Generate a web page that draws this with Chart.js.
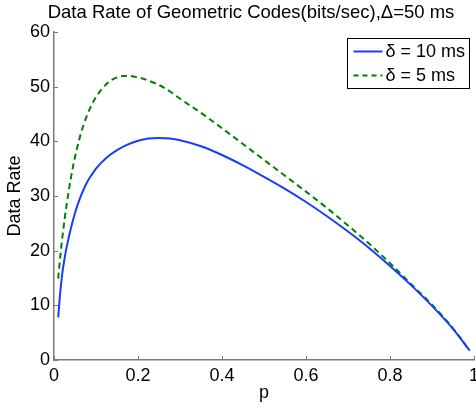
<!DOCTYPE html>
<html>
<head>
<meta charset="utf-8">
<script src="https://cdn.jsdelivr.net/npm/chart.js@4/dist/chart.umd.min.js"></script>
<style>
  html, body { margin: 0; padding: 0; background: #fff; }
  #wrap { width: 476px; height: 409px; position: relative; }
</style>
</head>
<body>
<div id="wrap"><canvas id="c" width="476" height="409"></canvas></div>
<script>
const titleText = "Data Rate of Geometric Codes(bits/sec),\u0394=50 ms";
const xLabel = "p";
const yLabel = "Data Rate";
const seriesNames = ["\u03b4 = 10 ms", "\u03b4 = 5 ms"];
const pValues = [0.01,0.015,0.02,0.025,0.03,0.04,0.05,0.06,0.07,0.08,0.09,0.1,0.125,0.15,0.175,0.2,0.225,0.25,0.275,0.3,0.35,0.4,0.45,0.5,0.55,0.6,0.65,0.7,0.75,0.8,0.85,0.9,0.95,0.99];
const rate10ms = [7.8,12.5,16.0,18.5,20.6,24.0,26.9,29.2,31.1,32.7,33.9,35.0,37.0,38.4,39.4,40.1,40.5,40.6,40.5,40.2,39.1,37.5,35.6,33.5,31.3,28.9,26.3,23.5,20.5,17.2,13.7,9.9,5.7,1.7];
const rate5ms = [14.9,19.0,22.5,25.6,28.4,33.2,37.1,40.3,42.9,45.0,46.7,48.1,50.5,51.7,52.0,51.7,51.1,50.3,49.2,47.8,45.2,42.4,39.5,36.6,33.7,30.8,27.8,24.6,21.3,17.7,13.9,10.1,5.8,1.7];
const xTicks = [0, 0.2, 0.4, 0.6, 0.8, 1];
const yTicks = [0, 10, 20, 30, 40, 50, 60];

const FONT = "'Liberation Sans', Arial, Helvetica, sans-serif";
const BLUE = '#1a3cff';
const GREEN = '#008000';
const AXIS = '#7a7a7a';

const toPts = (ys) => pValues.map((p, i) => ({ x: p, y: ys[i] }));

const decorPlugin = {
  id: 'decor',
  afterDraw(chart) {
    const ctx = chart.ctx;
    const xs = chart.scales.x, ys = chart.scales.y;
    const area = chart.chartArea;
    ctx.save();
    // inward ticks
    ctx.strokeStyle = AXIS;
    ctx.lineWidth = 1;
    xTicks.forEach(v => {
      const px = Math.round(xs.getPixelForValue(v)) + 0.5;
      ctx.beginPath(); ctx.moveTo(px, area.bottom); ctx.lineTo(px, area.bottom - 4); ctx.stroke();
    });
    yTicks.forEach(v => {
      const py = Math.round(ys.getPixelForValue(v)) + 0.5;
      ctx.beginPath(); ctx.moveTo(area.left, py); ctx.lineTo(area.left + 4, py); ctx.stroke();
    });
    // title
    ctx.fillStyle = '#000';
    ctx.font = '18.5px ' + FONT;
    ctx.textAlign = 'center';
    ctx.textBaseline = 'alphabetic';
    ctx.fillText(titleText, 251, 18);
    // legend
    const lx = 347.5, ly = 38.5, lw = 122, lh = 50;
    ctx.fillStyle = '#fff';
    ctx.fillRect(lx, ly, lw, lh);
    ctx.strokeStyle = '#000';
    ctx.lineWidth = 1;
    ctx.strokeRect(lx, ly, lw, lh);
    const rows = [
      { name: seriesNames[0], color: BLUE, dash: [] , y: ly + 13 },
      { name: seriesNames[1], color: GREEN, dash: [5, 4], y: ly + 37 }
    ];
    rows.forEach(r => {
      ctx.strokeStyle = r.color;
      ctx.lineWidth = 2;
      ctx.setLineDash(r.dash);
      ctx.beginPath(); ctx.moveTo(lx + 6, r.y); ctx.lineTo(lx + 35, r.y); ctx.stroke();
      ctx.setLineDash([]);
      ctx.fillStyle = '#000';
      ctx.font = '18px ' + FONT;
      ctx.textAlign = 'left';
      ctx.textBaseline = 'middle';
      ctx.fillText(r.name, lx + 38, r.y + 1);
    });
    ctx.restore();
  }
};

new Chart(document.getElementById('c'), {
  type: 'line',
  data: {
    datasets: [
      { label: seriesNames[0], data: toPts(rate10ms), borderColor: BLUE, borderWidth: 2, pointRadius: 0, fill: false, cubicInterpolationMode: 'monotone' },
      { label: seriesNames[1], data: toPts(rate5ms), borderColor: GREEN, borderWidth: 2, borderDash: [6, 4], pointRadius: 0, fill: false, cubicInterpolationMode: 'monotone' }
    ]
  },
  options: {
    responsive: false,
    animation: false,
    devicePixelRatio: 1,
    layout: { padding: { top: 32, right: 2, left: 0, bottom: 0 } },
    plugins: { legend: { display: false }, title: { display: false }, tooltip: { enabled: false } },
    scales: {
      x: {
        type: 'linear', min: 0, max: 1,
        afterBuildTicks: (s) => { s.ticks = xTicks.map(v => ({ value: v })); },
        afterFit: (s) => { s.height = 49; s.paddingRight = 0; s.paddingLeft = 0; },
        grid: { display: false, drawTicks: false },
        border: { display: true, color: AXIS, width: 1.5 },
        ticks: { color: '#000', font: { family: FONT, size: 18 }, padding: 5, maxRotation: 0,
                 callback: (v) => String(Math.round(v * 10) / 10) },
        title: { display: true, text: xLabel, color: '#000', font: { family: FONT, size: 18 }, padding: { top: 0, bottom: 5 } }
      },
      y: {
        type: 'linear', min: 0, max: 60,
        afterBuildTicks: (s) => { s.ticks = yTicks.map(v => ({ value: v })); },
        afterFit: (s) => { s.width = 54; s.paddingTop = 0; s.paddingBottom = 0; },
        grid: { display: false, drawTicks: false },
        border: { display: true, color: AXIS, width: 1.5 },
        ticks: { color: '#000', font: { family: FONT, size: 18 }, padding: 4 },
        title: { display: true, text: yLabel, color: '#000', font: { family: FONT, size: 18 }, padding: { top: 4, bottom: 0 } }
      }
    }
  },
  plugins: [decorPlugin]
});
</script>
</body>
</html>
